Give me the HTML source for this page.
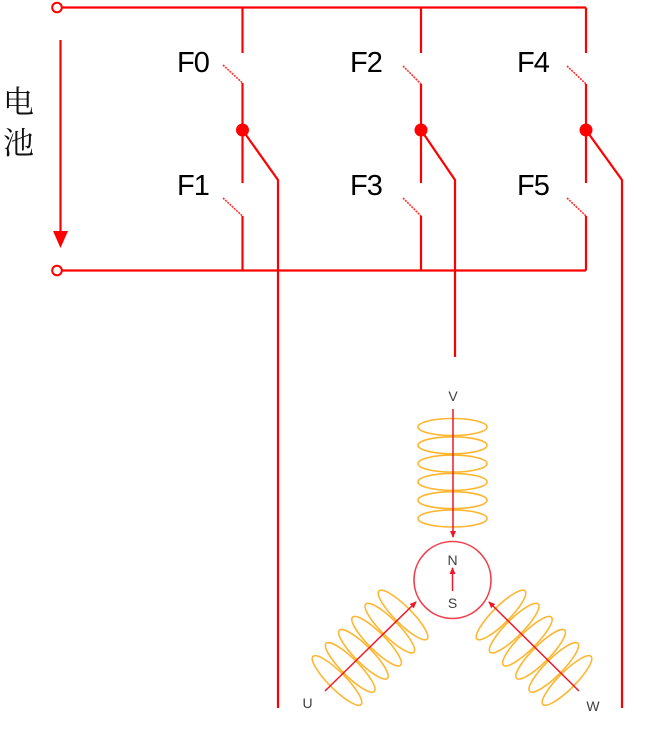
<!DOCTYPE html>
<html>
<head>
<meta charset="utf-8">
<style>
  html,body{margin:0;padding:0;background:#fff;}
  body{width:660px;height:734px;overflow:hidden;}
  svg{display:block;}
</style>
</head>
<body>
<svg width="660" height="734" viewBox="0 0 660 734" xmlns="http://www.w3.org/2000/svg">
  <defs>
    <marker id="ah" markerWidth="8" markerHeight="8" refX="6" refY="3" orient="auto" markerUnits="userSpaceOnUse">
      <path d="M0,0 L7,3 L0,6 Z" fill="#f01828"/>
    </marker>
  </defs>

  <!-- Battery label -->
  <text x="3" y="113" font-family="'Liberation Serif','Noto Serif CJK SC',serif" font-size="31" fill="#111">电</text>
  <text x="3" y="154" font-family="'Liberation Serif','Noto Serif CJK SC',serif" font-size="31" fill="#111">池</text>

  <g stroke="#ff0000" stroke-width="2.2" fill="none">
    <!-- top rail -->
    <line x1="62" y1="7.5" x2="586" y2="7.5"/>
    <!-- bottom rail -->
    <line x1="62" y1="270.5" x2="586" y2="270.5"/>
    <!-- battery arrow shaft -->
    <line x1="60.5" y1="40" x2="60.5" y2="234"/>

    <!-- column 1 -->
    <line x1="242.5" y1="7.5" x2="242.5" y2="53"/>
    <line x1="242.5" y1="83" x2="242.5" y2="183"/>
    <line x1="242.5" y1="216" x2="242.5" y2="270.5"/>
    <polyline points="242.5,130 278,180 278,708"/>

    <!-- column 2 -->
    <line x1="421" y1="7.5" x2="421" y2="53"/>
    <line x1="421" y1="84" x2="421" y2="183"/>
    <line x1="421" y1="216" x2="421" y2="270.5"/>
    <polyline points="421,130 455,180 455,357"/>

    <!-- column 3 -->
    <line x1="586" y1="7.5" x2="586" y2="53"/>
    <line x1="586" y1="84" x2="586" y2="183"/>
    <line x1="586" y1="216" x2="586" y2="270.5"/>
    <polyline points="586,130 622,180 622,708"/>
  </g>

  <!-- switch blades -->
  <g stroke="#ff3030" stroke-width="1.6" fill="none" stroke-dasharray="2 1">
    <line x1="223" y1="65" x2="242.5" y2="83"/>
    <line x1="223" y1="198" x2="242.5" y2="216"/>
    <line x1="403" y1="66" x2="421" y2="84"/>
    <line x1="403" y1="198" x2="421" y2="216"/>
    <line x1="567" y1="66" x2="586" y2="84"/>
    <line x1="567" y1="198" x2="586" y2="216"/>
  </g>

  <!-- junction dots -->
  <g fill="#ff0000">
    <circle cx="242.5" cy="130" r="6.5"/>
    <circle cx="421" cy="130" r="6.5"/>
    <circle cx="586" cy="130" r="6.5"/>
    <!-- battery arrowhead -->
    <path d="M53,231 L68,231 L60.5,248 Z"/>
  </g>

  <!-- terminals -->
  <g fill="#fff" stroke="#ff0000" stroke-width="2">
    <circle cx="57" cy="7.5" r="4.8"/>
    <circle cx="57" cy="270.5" r="4.8"/>
  </g>

  <!-- switch labels -->
  <g font-family="'Liberation Sans',sans-serif" font-size="29" fill="#000" letter-spacing="-1">
    <text x="177" y="72">F0</text>
    <text x="177" y="195">F1</text>
    <text x="350" y="72">F2</text>
    <text x="350" y="195">F3</text>
    <text x="517" y="72">F4</text>
    <text x="517" y="195">F5</text>
  </g>

  <!-- coils -->
  <g fill="none" stroke="#ffb52e" stroke-width="1.6">
    <!-- V coil -->
    <ellipse cx="452.5" cy="427" rx="34.5" ry="8.5"/>
    <ellipse cx="452.5" cy="445.3" rx="34.5" ry="8.5"/>
    <ellipse cx="452.5" cy="463.6" rx="34.5" ry="8.5"/>
    <ellipse cx="452.5" cy="481.9" rx="34.5" ry="8.5"/>
    <ellipse cx="452.5" cy="500.2" rx="34.5" ry="8.5"/>
    <ellipse cx="452.5" cy="518.5" rx="34.5" ry="8.5"/>
    <!-- U coil -->
    <ellipse cx="337" cy="680.5" rx="34" ry="8.5" transform="rotate(45 337 680.5)"/>
    <ellipse cx="350.2" cy="667.4" rx="34" ry="8.5" transform="rotate(45 350.2 667.4)"/>
    <ellipse cx="363.4" cy="654.3" rx="34" ry="8.5" transform="rotate(45 363.4 654.3)"/>
    <ellipse cx="376.6" cy="641.2" rx="34" ry="8.5" transform="rotate(45 376.6 641.2)"/>
    <ellipse cx="389.8" cy="628.1" rx="34" ry="8.5" transform="rotate(45 389.8 628.1)"/>
    <ellipse cx="403" cy="615" rx="34" ry="8.5" transform="rotate(45 403 615)"/>
    <!-- W coil -->
    <ellipse cx="567" cy="680.5" rx="34" ry="8.5" transform="rotate(-45 567 680.5)"/>
    <ellipse cx="553.8" cy="667.4" rx="34" ry="8.5" transform="rotate(-45 553.8 667.4)"/>
    <ellipse cx="540.6" cy="654.3" rx="34" ry="8.5" transform="rotate(-45 540.6 654.3)"/>
    <ellipse cx="527.4" cy="641.2" rx="34" ry="8.5" transform="rotate(-45 527.4 641.2)"/>
    <ellipse cx="514.2" cy="628.1" rx="34" ry="8.5" transform="rotate(-45 514.2 628.1)"/>
    <ellipse cx="501" cy="615" rx="34" ry="8.5" transform="rotate(-45 501 615)"/>
  </g>

  <!-- rotor circle -->
  <circle cx="452.5" cy="580" r="38.5" fill="none" stroke="#f0404c" stroke-width="1.6"/>

  <!-- motor field lines -->
  <g stroke="#f01828" stroke-width="1.5" fill="none" marker-end="url(#ah)">
    <line x1="453" y1="409" x2="453" y2="537"/>
    <line x1="325" y1="691" x2="416" y2="602"/>
    <line x1="579" y1="691" x2="489" y2="602"/>
    <line x1="452.5" y1="591" x2="452.5" y2="568"/>
  </g>

  <!-- motor labels -->
  <g font-family="'Liberation Sans',sans-serif" font-size="14" fill="#404040" text-anchor="middle">
    <text x="453" y="401">V</text>
    <text x="452.5" y="565">N</text>
    <text x="452.5" y="608">S</text>
    <text x="307.5" y="708">U</text>
    <text x="593" y="711">W</text>
  </g>
</svg>
</body>
</html>
